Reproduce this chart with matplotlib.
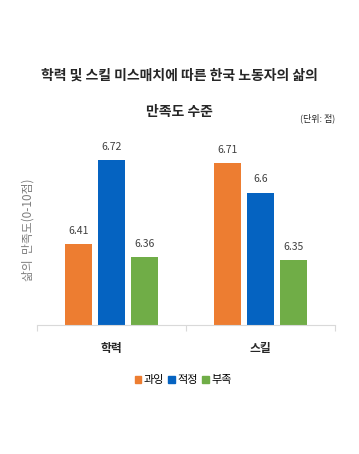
import numpy as np
import matplotlib.pyplot as plt

plt.rcParams['font.family'] = ['Noto Sans CJK KR', 'DejaVu Sans']

categories = ['학력', '스킬']
series = ['과잉', '적정', '부족']
values = {
    '과잉': [6.41, 6.71],
    '적정': [6.72, 6.6],
    '부족': [6.36, 6.35],
}
labels = {
    '과잉': ['6.41', '6.71'],
    '적정': ['6.72', '6.6'],
    '부족': ['6.36', '6.35'],
}
colors = ['#ED7D31', '#0563C1', '#70AD47']

fig = plt.figure(figsize=(3.59, 4.54), dpi=100)
ax = fig.add_axes([0.103, 0.284, 0.830, 0.42])

x = np.arange(len(categories))
width = 0.18
offsets = [-0.22, 0, 0.22]
for s, off, c in zip(series, offsets, colors):
    bars = ax.bar(x + off, values[s], width, bottom=0, color=c)
    for b, lab in zip(bars, labels[s]):
        ax.text(b.get_x() + b.get_width() / 2, b.get_height() + 0.03, lab,
                ha='center', va='bottom', fontsize=7.5, color='#404040')

ax.set_ylim(6.11, 6.815)
ax.set_xlim(-0.5, 1.5)
for sp in ['top', 'right', 'left']:
    ax.spines[sp].set_visible(False)
ax.spines['bottom'].set_color('#D9D9D9')
ax.set_yticks([])
ax.set_xticks([-0.5, 0.5, 1.5], minor=False)
ax.set_xticklabels(['', '', ''])
ax.tick_params(axis='x', length=4, color='#D9D9D9')
for xi, cat in zip(x, categories):
    ax.text(xi, -0.09, cat, transform=ax.get_xaxis_transform(), ha='center',
            va='top', fontsize=8.5, fontweight='bold', color='#262626')

ax.set_ylabel('삶의  만족도(0-10점)', fontsize=8.5, color='#7F7F7F', labelpad=2)

fig.text(0.5, 0.834, '학력 및 스킬 미스매치에 따른 한국 노동자의 삶의',
         ha='center', va='center', fontsize=10, fontweight='bold', color='#262626')
fig.text(0.5, 0.753, '만족도 수준', ha='center', va='center', fontsize=10,
         fontweight='bold', color='#262626')
fig.text(0.885, 0.740, '(단위: 점)', ha='center', va='center', fontsize=6.5, color='#262626')

handles = [plt.Rectangle((0, 0), 1, 1, color=c) for c in colors]
fig.legend(handles, series, loc='center', bbox_to_anchor=(0.51, 0.163), ncol=3,
           frameon=False, fontsize=8, handlelength=0.6, handleheight=0.6,
           handletextpad=0.2, columnspacing=0.4)

fig.savefig('out.png', dpi=100)
